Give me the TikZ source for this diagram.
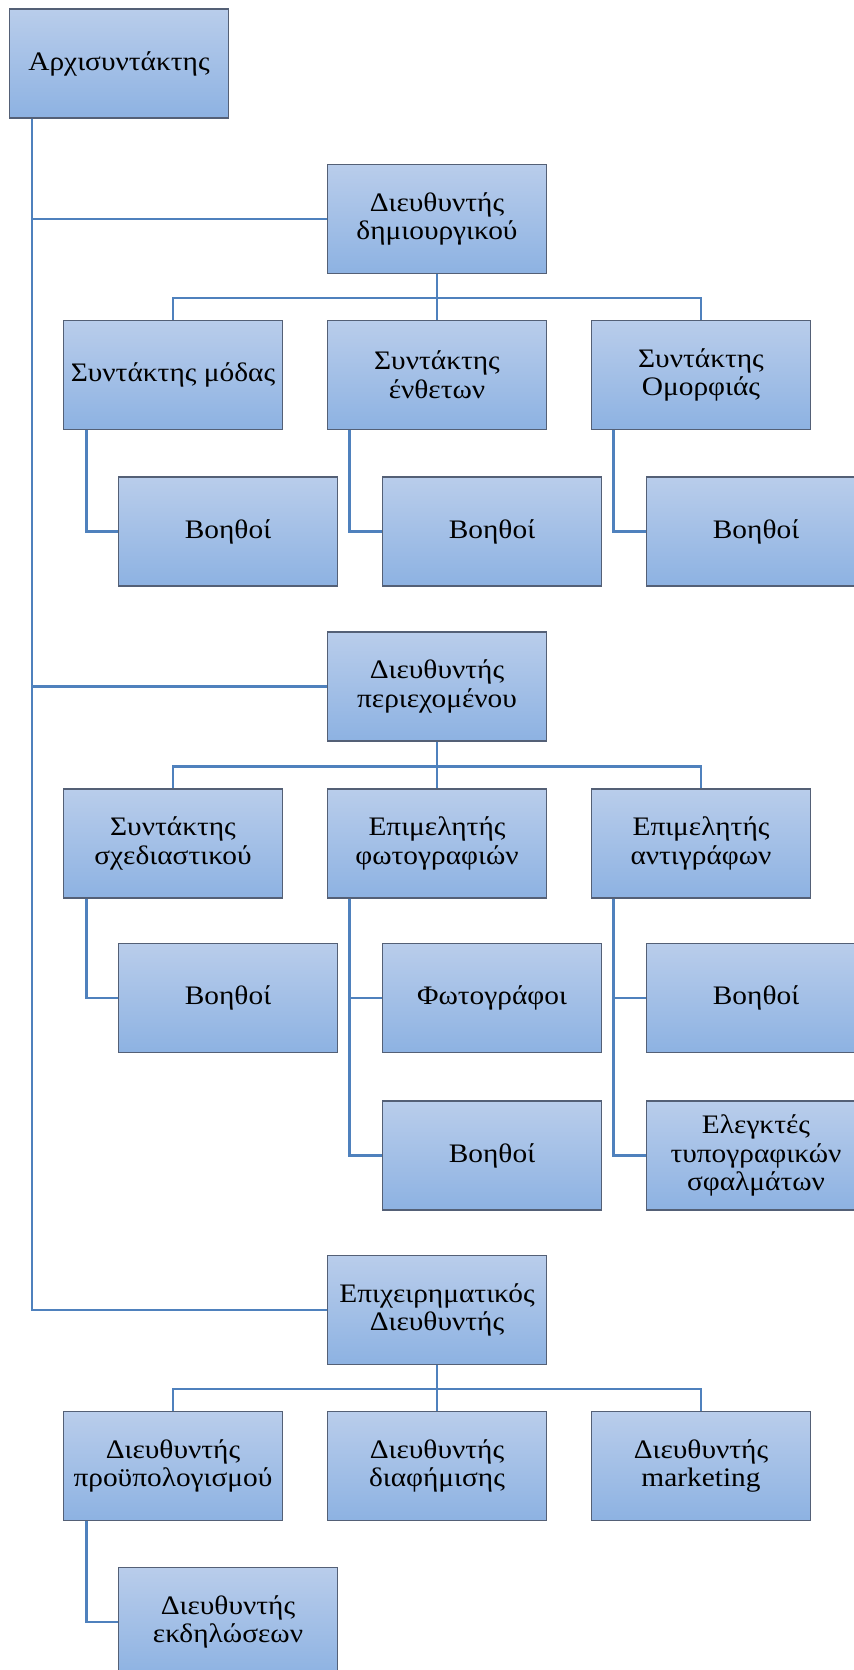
\documentclass[tikz,border=0pt]{standalone}
\usepackage{fontspec}
\setmainfont{Liberation Serif}[FakeStretch=1.1]
\usepackage{tikz}

\definecolor{boxtop}{RGB}{185,205,235}
\definecolor{boxbot}{RGB}{141,178,226}
\definecolor{boxline}{RGB}{84,96,118}
\definecolor{linkblue}{RGB}{79,129,189}

\begin{document}
\begin{tikzpicture}[x=0.02cm,y=-0.02cm,
  box/.style={draw=boxline,line width=0.6pt,top color=boxtop,bottom color=boxbot,
    minimum width=4.38cm,minimum height=2.18cm,inner sep=0pt,align=center,
    font=\fontsize{15.2}{16.3}\selectfont},
  link/.style={draw=linkblue,line width=1.2pt}]
\useasboundingbox (0,0) rectangle (854,1670);
% top
\node[box] (r) at (119,63.5) {Αρχισυντάκτης} ;
% creative
\node[box] (d1) at (437,219) {Διευθυντής\\δημιουργικού} ;
\node[box] (s11) at (173,375) {Συντάκτης μόδας} ;
\node[box] (s12) at (437,375) {Συντάκτης\\ένθετων} ;
\node[box] (s13) at (701,375) {Συντάκτης\\Ομορφιάς} ;
\node[box] (b11) at (228,531.5) {Βοηθοί} ;
\node[box] (b12) at (492,531.5) {Βοηθοί} ;
\node[box] (b13) at (756,531.5) {Βοηθοί} ;
% content
\node[box] (d2) at (437,686.5) {Διευθυντής\\περιεχομένου} ;
\node[box] (s21) at (173,843.5) {Συντάκτης\\σχεδιαστικού} ;
\node[box] (s22) at (437,843.5) {Επιμελητής\\φωτογραφιών} ;
\node[box] (s23) at (701,843.5) {Επιμελητής\\αντιγράφων} ;
\node[box] (b21) at (228,998) {Βοηθοί} ;
\node[box] (f22) at (492,998) {Φωτογράφοι} ;
\node[box] (b23) at (756,998) {Βοηθοί} ;
\node[box] (b22) at (492,1155.5) {Βοηθοί} ;
\node[box] (e23) at (756,1155.5) {Ελεγκτές\\τυπογραφικών\\σφαλμάτων} ;
% business
\node[box] (d3) at (437,1310) {Επιχειρηματικός\\Διευθυντής} ;
\node[box] (s31) at (173,1466) {Διευθυντής\\προϋπολογισμού} ;
\node[box] (s32) at (437,1466) {Διευθυντής\\διαφήμισης} ;
\node[box] (s33) at (701,1466) {Διευθυντής\\marketing} ;
\node[box] (v31) at (228,1622) {Διευθυντής\\εκδηλώσεων} ;
% trunk
\draw[link] ([xshift=0.46cm]r.south west) |- (d3.west) ;
\draw[link] ([xshift=0.46cm]r.south west) |- (d1.west) ;
\draw[link] ([xshift=0.46cm]r.south west) |- (d2.west) ;
% buses
\draw[link] (d1.south) -- (s12.north) ;
\draw[link] (s11.north) -- ++(0,-22) -| (s13.north) ;
\draw[link] (d2.south) -- (s22.north) ;
\draw[link] (s21.north) -- ++(0,-22) -| (s23.north) ;
\draw[link] (d3.south) -- (s32.north) ;
\draw[link] (s31.north) -- ++(0,-22) -| (s33.north) ;
% elbows
\draw[link] ([xshift=0.47cm]s11.south west) |- (b11.west) ;
\draw[link] ([xshift=0.45cm]s12.south west) |- (b12.west) ;
\draw[link] ([xshift=0.45cm]s13.south west) |- (b13.west) ;
\draw[link] ([xshift=0.47cm]s21.south west) |- (b21.west) ;
\draw[link] ([xshift=0.45cm]s22.south west) |- (f22.west) ;
\draw[link] ([xshift=0.45cm]s22.south west) |- (b22.west) ;
\draw[link] ([xshift=0.45cm]s23.south west) |- (b23.west) ;
\draw[link] ([xshift=0.45cm]s23.south west) |- (e23.west) ;
\draw[link] ([xshift=0.47cm]s31.south west) |- (v31.west) ;
\end{tikzpicture}
\end{document}
